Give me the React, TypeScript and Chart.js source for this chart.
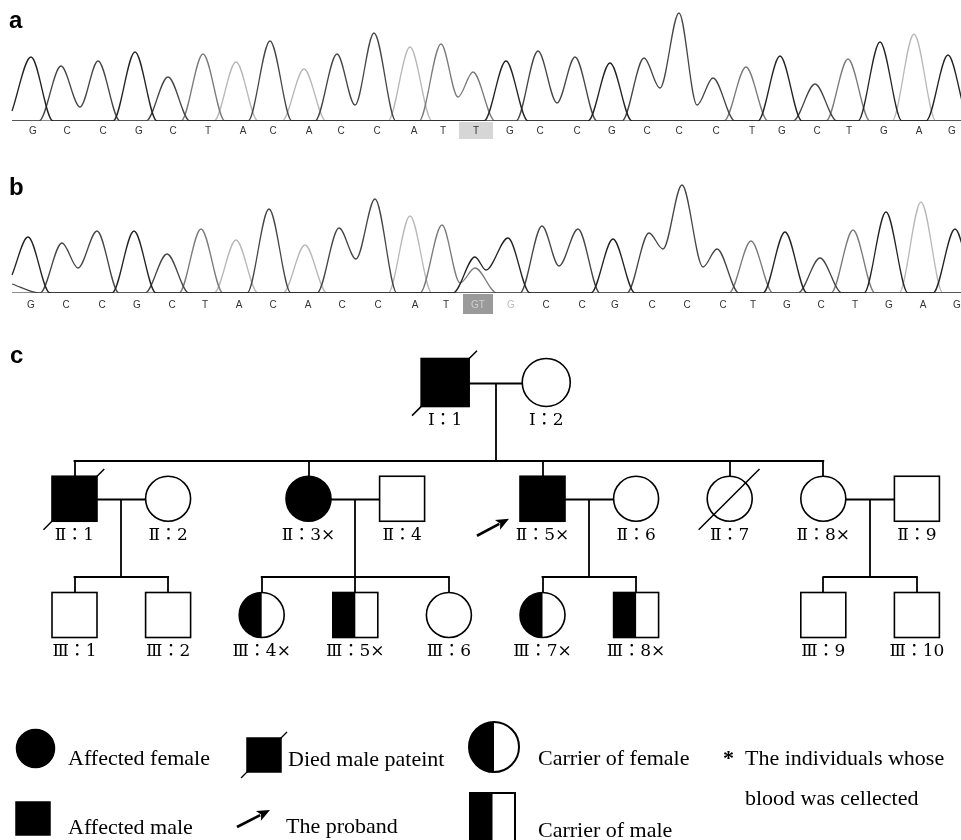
import React, { useEffect, useRef } from 'react';
import { Chart, registerables } from 'chart.js';

Chart.register(...registerables);

// ---------------- Trace a (wild type) ----------------
const A_BASES = ['G','C','C','G','C','T','A','C','A','C','C','A','T','T','G','C','C','G','C','C','C','T','G','C','T','G','A','G'];
const A_BASE_POS = [33,67,103,139,173,208,243,273,309,341,377,414,443,476,510,540,577,612,647,679,716,752,782,817,849,884,919,952];
const A_PEAK_CH = ['G','C','C','G','C','T','A','C','A','C','C','A','T','T','G','C','C','G','C','C','C','T','G','C','T','G','A','G'];
const A_PEAK_POS = [31,61,98,135,168,203,236,270,304,337,374,410,441,473,506,538,575,610,644,679,713,746,780,815,848,880,914,948];
const A_PEAK_H = [64,55,60,69,44,67,59,80,52,67,88,74,77,49,60,70,64,58,63,108,43,54,65,37,62,79,87,66];
const A_VALLEY_CH = ['C','C','T','C','C','C'];
const A_VALLEY_POS = [80,355,458,557,660,697];
const A_VALLEY_H = [14,16,24,18,33,16];
const A_START = { G: 10 };
const A_MARK = 13;

// ---------------- Trace b (patient) ----------------
const B_BASES = ['G','C','C','G','C','T','A','C','A','C','C','A','T','GT','G','C','C','G','C','C','C','T','G','C','T','G','A','G'];
const B_BASE_POS = [31,66,102,137,172,205,239,273,308,342,378,415,446,478,511,546,582,615,652,687,723,753,787,821,855,889,923,957];
const B_PEAK_CH = ['G','C','C','G','C','T','A','C','A','C','C','A','T','G','T','G','C','C','G','C','C','C','T','G','C','T','G','A','G'];
const B_PEAK_POS = [28,62,97,134,167,201,236,269,305,339,375,410,442,475,475,508,542,578,613,649,682,717,751,785,820,853,886,921,955];
const B_PEAK_H = [56,50,62,62,39,64,53,84,48,65,94,77,68,36,25,55,67,64,54,60,108,44,52,61,35,63,81,91,64];
const B_VALLEY_CH = ['C','C','T','G','C','C','C'];
const B_VALLEY_POS = [78,356,460,486,559,663,703];
const B_VALLEY_H = [25,34,10,23,27,44,26];
const B_START = { G: 18, C: 9 };
const B_MARK = 13;

const CHANNELS = ['G', 'C', 'T', 'A'];
const CH_COLOR: Record<string, string> = { G: '#222222', C: '#454545', T: '#7a7a7a', A: '#b8b8b8' };

// ---------------- Pedigree ----------------
const ROMAN = ['Ⅰ', 'Ⅱ', 'Ⅲ'];
const PED_GEN = [1,1,2,2,2,2,2,2,2,2,2,3,3,3,3,3,3,3,3,3];
const PED_NO = [1,2,1,2,3,4,5,6,7,8,9,1,2,4,5,6,7,8,9,10];
const PED_SLOT = [3.96,5.04,0,1,2.5,3.5,5,6,7,8,9,0,1,2,3,4,5,6,8,9];
const PED_SEX = ['M','F','M','F','F','M','M','F','F','F','M','M','M','F','M','F','F','M','M','M'];
const PED_STATUS = ['A','N','A','N','A','N','A','N','N','N','N','N','N','C','C','N','C','C','N','N'];
const PED_DECEASED = [1,0,1,0,0,0,0,0,1,0,0,0,0,0,0,0,0,0,0,0];
const PED_SAMPLED = [0,0,0,0,1,0,1,0,0,1,0,0,0,1,1,0,1,1,0,0];
const PROBAND = 6;
const MATINGS = [[0,1],[2,3],[4,5],[6,7],[9,10]];
const OFFSPRING = [[2,4,6,8,9],[11,12],[13,14,15],[16,17],[18,19]];

const SANS = '"Liberation Sans", Arial, sans-serif';
const SERIF = '"Liberation Serif", "Times New Roman", serif';
const LABEL_FONT = '"DejaVu Serif", "Noto Sans CJK TC", serif';

type Trace = {
  bases: string[]; basePos: number[]; peakCh: string[]; peakPos: number[]; peakH: number[];
  vCh: string[]; vPos: number[]; vH: number[]; start: Record<string, number>; mark: number;
  padTop: number; padBottom: number; labelOff: number; panel: string; panelY: number;
  boxColor: string; boxW: number; boxH: number; labelColors: string[];
};

function channelPoints(ch: string, t: Trace) {
  const HW = 22, X0 = 12, X1 = 985;
  const peaks = t.peakPos.map((p, i) => ({ x: p, h: t.peakH[i], c: t.peakCh[i] }))
    .filter(p => p.c === ch).sort((a, b) => a.x - b.x);
  const valleys = t.vPos.map((p, i) => ({ x: p, h: t.vH[i], c: t.vCh[i] })).filter(v => v.c === ch);
  const pts: { x: number; y: number }[] = [{ x: X0, y: t.start[ch] || 0 }];
  peaks.forEach((p, i) => {
    const prev = peaks[i - 1];
    if (prev && p.x - prev.x < 2 * HW) {
      const v = valleys.find(v => v.x > prev.x && v.x < p.x);
      if (v) pts.push({ x: v.x, y: v.h });
    } else if (p.x - HW > X0 + 1) {
      pts.push({ x: p.x - HW, y: 0 });
    }
    pts.push({ x: p.x, y: p.h });
    const next = peaks[i + 1];
    if (!next || next.x - p.x >= 2 * HW) pts.push({ x: p.x + HW, y: 0 });
  });
  pts.push({ x: X1, y: 0 });
  return pts;
}

function tracePlugin(t: Trace) {
  return {
    id: 'traceDecor',
    afterDatasetsDraw(chart: any) {
      const { ctx, chartArea, scales } = chart;
      const xs = scales.x;
      ctx.save();
      const mx = xs.getPixelForValue(t.basePos[t.mark]);
      ctx.fillStyle = t.boxColor;
      ctx.fillRect(Math.round(mx - t.boxW / 2), chartArea.bottom + 1, t.boxW, t.boxH);
      ctx.font = '10px ' + SANS;
      ctx.textAlign = 'center';
      ctx.textBaseline = 'middle';
      t.bases.forEach((b, i) => {
        ctx.fillStyle = t.labelColors[i];
        ctx.fillText(b, xs.getPixelForValue(t.basePos[i]), chartArea.bottom + t.labelOff);
      });
      ctx.font = 'bold 24px ' + SANS;
      ctx.textAlign = 'left';
      ctx.textBaseline = 'alphabetic';
      ctx.fillStyle = '#000';
      ctx.fillText(t.panel, 9, t.panelY);
      ctx.restore();
    },
  };
}

function traceConfig(t: Trace): any {
  const datasets = CHANNELS.map(ch => ({
    label: ch,
    data: channelPoints(ch, t),
    borderColor: CH_COLOR[ch],
    borderWidth: 1.3,
    pointRadius: 0,
    fill: false,
    cubicInterpolationMode: 'monotone',
  }));
  return {
    type: 'line',
    data: { datasets },
    options: {
      animation: false,
      responsive: false,
      events: [],
      layout: { padding: { top: t.padTop, bottom: t.padBottom, left: 0, right: 0 } },
      scales: {
        x: { type: 'linear', min: 0, max: 961, display: false },
        y: { type: 'linear', min: 0, max: 110, display: false },
      },
      plugins: { legend: { display: false }, tooltip: { enabled: false } },
    },
    plugins: [tracePlugin(t)],
  };
}

const TRACE_A: Trace = {
  bases: A_BASES, basePos: A_BASE_POS, peakCh: A_PEAK_CH, peakPos: A_PEAK_POS, peakH: A_PEAK_H,
  vCh: A_VALLEY_CH, vPos: A_VALLEY_POS, vH: A_VALLEY_H, start: A_START, mark: A_MARK,
  padTop: 11, padBottom: 39, labelOff: 10.5, panel: 'a', panelY: 28,
  boxColor: '#d6d6d6', boxW: 34, boxH: 17,
  labelColors: A_BASES.map(() => '#333'),
};

const TRACE_B: Trace = {
  bases: B_BASES, basePos: B_BASE_POS, peakCh: B_PEAK_CH, peakPos: B_PEAK_POS, peakH: B_PEAK_H,
  vCh: B_VALLEY_CH, vPos: B_VALLEY_POS, vH: B_VALLEY_H, start: B_START, mark: B_MARK,
  padTop: 23, padBottom: 27, labelOff: 12, panel: 'b', panelY: 35,
  boxColor: '#9a9a9a', boxW: 30, boxH: 20,
  labelColors: B_BASES.map((_, i) => (i === 13 ? '#cfcfcf' : i === 14 ? '#bdbdbd' : '#333')),
};

function arrow(ctx: CanvasRenderingContext2D, x1: number, y1: number, x2: number, y2: number) {
  const ang = Math.atan2(y2 - y1, x2 - x1);
  const hl = 13, hw = 5.5;
  const bx = x2 - hl * Math.cos(ang), by = y2 - hl * Math.sin(ang);
  ctx.lineWidth = 2.6;
  ctx.beginPath();
  ctx.moveTo(x1, y1);
  ctx.lineTo(bx + 2 * Math.cos(ang), by + 2 * Math.sin(ang));
  ctx.stroke();
  ctx.beginPath();
  ctx.moveTo(x2, y2);
  ctx.lineTo(bx + hw * Math.sin(ang), by - hw * Math.cos(ang));
  ctx.lineTo(bx + 3 * Math.cos(ang), by + 3 * Math.sin(ang));
  ctx.lineTo(bx - hw * Math.sin(ang), by + hw * Math.cos(ang));
  ctx.closePath();
  ctx.fill();
}

function symbol(ctx: CanvasRenderingContext2D, cx: number, cy: number, w: number, h: number, sex: string, status: string, lw: number) {
  ctx.lineWidth = lw;
  ctx.strokeStyle = '#000';
  if (sex === 'M') {
    const x0 = cx - w / 2, y0 = cy - h / 2;
    ctx.fillStyle = '#fff';
    ctx.fillRect(x0, y0, w, h);
    ctx.fillStyle = '#000';
    if (status === 'A') ctx.fillRect(x0, y0, w, h);
    if (status === 'C') ctx.fillRect(x0, y0, w / 2, h);
    ctx.strokeRect(x0, y0, w, h);
  } else {
    const r = w / 2;
    ctx.beginPath();
    ctx.arc(cx, cy, r, 0, Math.PI * 2);
    ctx.fillStyle = status === 'A' ? '#000' : '#fff';
    ctx.fill();
    if (status === 'C') {
      ctx.beginPath();
      ctx.moveTo(cx, cy - r);
      ctx.arc(cx, cy, r, -Math.PI / 2, Math.PI / 2, true);
      ctx.closePath();
      ctx.fillStyle = '#000';
      ctx.fill();
    }
    ctx.beginPath();
    ctx.arc(cx, cy, r, 0, Math.PI * 2);
    ctx.stroke();
  }
}

const SIZE_BY_GEN = [48, 45, 45];

const pedigreePlugin = {
  id: 'pedigree',
  afterDatasetsDraw(chart: any) {
    const { ctx, scales } = chart;
    const px = (i: number) => scales.x.getPixelForValue(PED_SLOT[i]);
    const py = (i: number) => scales.y.getPixelForValue(PED_GEN[i]);
    const sz = (i: number) => SIZE_BY_GEN[PED_GEN[i] - 1];
    ctx.save();
    ctx.strokeStyle = '#000';
    ctx.fillStyle = '#000';
    ctx.lineCap = 'butt';
    const line = (x1: number, y1: number, x2: number, y2: number) => {
      ctx.beginPath();
      ctx.moveTo(x1, y1);
      ctx.lineTo(x2, y2);
      ctx.stroke();
    };
    // relationship lines
    ctx.lineWidth = 1.8;
    MATINGS.forEach(([a, b], k) => {
      const yy = Math.round(py(a)) + 0.5;
      const ax = px(a) + sz(a) / 2, bx = px(b) - sz(b) / 2;
      line(ax, yy, bx, yy);
      const mx = Math.round((ax + bx) / 2);
      const kids = OFFSPRING[k];
      const kidTop = py(kids[0]) - sz(kids[0]) / 2;
      const sibY = Math.round(kidTop - 15.5);
      line(mx, yy, mx, sibY);
      const kx = kids.map(px);
      line(Math.min(mx, ...kx) - 0.9, sibY, Math.max(mx, ...kx) + 0.9, sibY);
      kx.forEach(x => line(Math.round(x), sibY, Math.round(x), kidTop));
    });
    // individuals
    PED_GEN.forEach((g, i) => {
      const cx = px(i), cy = py(i), s = sz(i);
      symbol(ctx, cx, cy, s, s, PED_SEX[i], PED_STATUS[i], 1.6);
      if (PED_DECEASED[i]) {
        ctx.lineWidth = 1.5;
        ctx.strokeStyle = '#000';
        const d = s * 0.69;
        line(cx - d, cy + d, cx + d * 0.96, cy - d * 0.96);
      }
      ctx.font = '17px ' + LABEL_FONT;
      ctx.textAlign = 'center';
      ctx.textBaseline = 'middle';
      ctx.fillStyle = '#000';
      const label = ROMAN[g - 1] + '：' + PED_NO[i] + (PED_SAMPLED[i] ? '×' : '');
      ctx.fillText(label, cx, cy + s / 2 + 14);
      if (i === PROBAND) {
        ctx.fillStyle = '#000';
        ctx.strokeStyle = '#000';
        arrow(ctx, cx - 65.5, cy + 37, cx - 33.5, cy + 20);
      }
    });

    // panel label
    ctx.font = 'bold 24px ' + SANS;
    ctx.textAlign = 'left';
    ctx.textBaseline = 'alphabetic';
    ctx.fillStyle = '#000';
    ctx.fillText('c', 10, 43);

    // legend
    ctx.font = '22px ' + SERIF;
    ctx.textBaseline = 'alphabetic';
    ctx.textAlign = 'left';
    // row 1
    symbol(ctx, 35.5, 428.5, 38, 38, 'F', 'A', 1.5);
    ctx.fillStyle = '#000';
    ctx.fillText('Affected female', 68, 445);
    symbol(ctx, 264, 435, 34, 34, 'M', 'A', 1.5);
    ctx.lineWidth = 1.3;
    line(241, 458, 287, 412);
    ctx.fillStyle = '#000';
    ctx.fillText('Died male pateint', 288, 446);
    symbol(ctx, 494, 427, 50, 50, 'F', 'C', 2);
    ctx.fillStyle = '#000';
    ctx.fillText('Carrier of female', 538, 445);
    ctx.font = 'bold 22px ' + SERIF;
    ctx.fillText('*', 723, 445);
    ctx.font = '22px ' + SERIF;
    ctx.fillText('The individuals whose', 745, 445);
    ctx.fillText('blood was cellected', 745, 485);
    // row 2
    symbol(ctx, 33, 498.5, 34, 33, 'M', 'A', 1.5);
    ctx.fillStyle = '#000';
    ctx.fillText('Affected male', 68, 514);
    arrow(ctx, 237, 507, 270, 490);
    ctx.fillText('The proband', 286, 513);
    symbol(ctx, 492.5, 497, 45, 48, 'M', 'C', 2);
    ctx.fillStyle = '#000';
    ctx.fillText('Carrier of male', 538, 517);
    ctx.restore();
  },
};

function pedigreeConfig(): any {
  return {
    type: 'scatter',
    data: {
      datasets: [{
        label: 'individuals',
        data: PED_SLOT.map((s, i) => ({ x: s, y: PED_GEN[i] })),
        pointRadius: 0,
        pointHoverRadius: 0,
      }],
    },
    options: {
      animation: false,
      responsive: false,
      events: [],
      layout: { padding: 0 },
      scales: {
        x: { type: 'linear', min: -74.5 / 93.6, max: (961 - 74.5) / 93.6, display: false },
        y: { type: 'linear', min: 1 - 62.5 / 116.25, max: 3 + (520 - 295) / 116.25, reverse: true, display: false },
      },
      plugins: { legend: { display: false }, tooltip: { enabled: false } },
    },
    plugins: [pedigreePlugin],
  };
}

function ChartCanvas({ top, height, build }: { top: number; height: number; build: () => any }) {
  const ref = useRef<HTMLCanvasElement>(null);
  useEffect(() => {
    const chart = new Chart(ref.current as HTMLCanvasElement, build());
    return () => chart.destroy();
  }, []);
  return (
    <canvas
      ref={ref}
      width={961}
      height={height}
      style={{ position: 'absolute', left: 0, top, width: 961, height, display: 'block' }}
    />
  );
}

export default function App() {
  return (
    <div style={{ position: 'absolute', left: 0, top: 0, width: 961, height: 840, background: '#fff', overflow: 'hidden' }}>
      <ChartCanvas top={0} height={160} build={() => traceConfig(TRACE_A)} />
      <ChartCanvas top={160} height={160} build={() => traceConfig(TRACE_B)} />
      <ChartCanvas top={320} height={520} build={pedigreeConfig} />
    </div>
  );
}
